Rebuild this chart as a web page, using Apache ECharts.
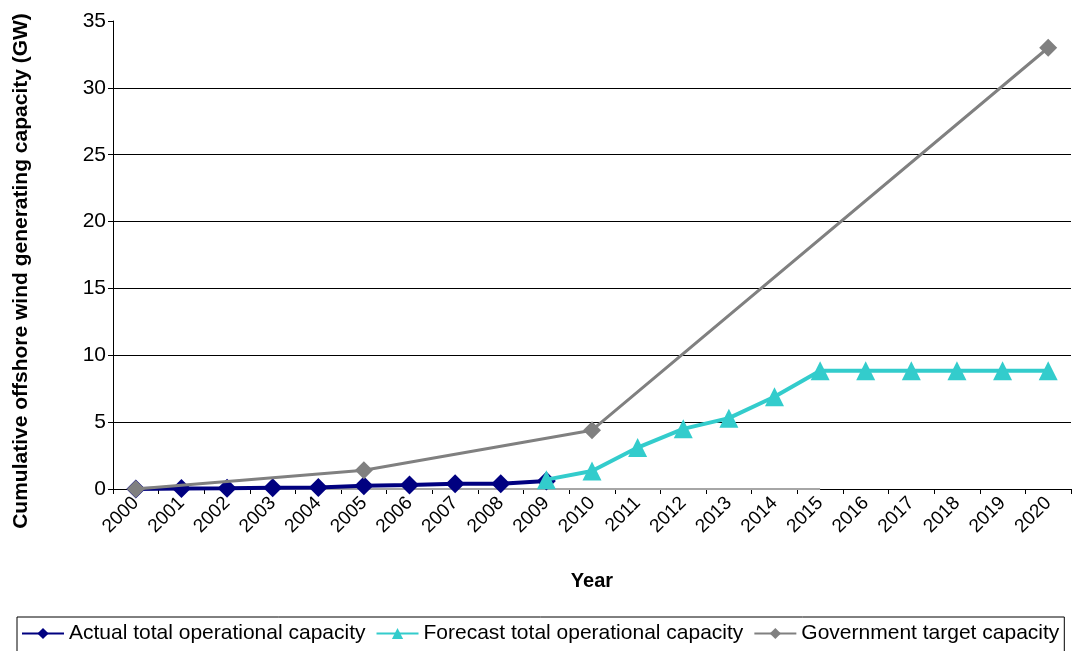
<!DOCTYPE html>
<html>
<head>
<meta charset="utf-8">
<script src="https://cdn.jsdelivr.net/npm/echarts@6/dist/echarts.min.js"></script>
<style>
html,body{margin:0;padding:0;background:#fff;}
#chart{width:1074px;height:651px;}
</style>
</head>
<body>
<div id="chart"></div>
<script>
const years = ['2000','2001','2002','2003','2004','2005','2006','2007','2008','2009','2010','2011','2012','2013','2014','2015','2016','2017','2018','2019','2020'];
const actual = [0, 0.03, 0.06, 0.1, 0.12, 0.25, 0.3, 0.4, 0.4, 0.6, null, null, null, null, null, null, null, null, null, null, null];
const forecast = [null, null, null, null, null, null, null, null, null, 0.7, 1.35, 3.1, 4.5, 5.3, 6.9, 8.85, 8.85, 8.85, 8.85, 8.85, 8.85];
const government = [0, null, null, null, null, 1.4, null, null, null, null, 4.4, null, null, null, null, null, null, null, null, null, 33];
const baseline = [0, 0, 0, 0, 0, 0, 0, 0, 0, 0, 0, 0, 0, 0, 0, 0, null, null, null, null, null];
const yTicks = [0, 5, 10, 15, 20, 25, 30, 35];
const yTitle = 'Cumulative offshore wind generating capacity (GW)';

const chart = echarts.init(document.getElementById('chart'));
const font = 'Arial, "Liberation Sans", sans-serif';
chart.setOption({
  animation: false,
  textStyle: { fontFamily: font },
  grid: { left: 113, right: 3, top: 21, bottom: 162, containLabel: false },
  graphic: [{
    type: 'text',
    x: 21,
    y: 271,
    rotation: Math.PI / 2,
    style: {
      text: yTitle,
      fontSize: 21,
      fontWeight: 'bold',
      fontFamily: font,
      fill: '#000',
      textAlign: 'center',
      textVerticalAlign: 'middle'
    }
  }],
  xAxis: {
    type: 'category',
    data: years,
    boundaryGap: true,
    axisLine: { lineStyle: { color: '#000', width: 1 } },
    axisTick: { show: true, alignWithLabel: false, length: 5, lineStyle: { color: '#000' } },
    axisLabel: { rotate: 45, fontSize: 19, color: '#000', margin: 11, fontFamily: font },
    name: 'Year',
    nameLocation: 'middle',
    nameGap: 82,
    nameTextStyle: { fontSize: 20, fontWeight: 'bold', color: '#000', fontFamily: font }
  },
  yAxis: {
    type: 'value',
    min: yTicks[0],
    max: yTicks[yTicks.length - 1],
    interval: 5,
    axisLine: { show: true, lineStyle: { color: '#000', width: 1 } },
    axisTick: { show: true, length: 5, lineStyle: { color: '#000' } },
    axisLabel: { fontSize: 21, color: '#000', margin: 7, fontFamily: font },
    splitLine: { show: true, showMaxLine: false, lineStyle: { color: '#000', width: 1 } }
  },
  legend: {
    left: 17,
    top: 617,
    width: 1050,
    orient: 'horizontal',
    borderColor: '#000',
    borderWidth: 1,
    padding: [6, 5, 12, 4],
    itemGap: 10,
    itemWidth: 42,
    itemHeight: 14,
    textStyle: { fontSize: 21, color: '#000', fontFamily: font },
    data: ['Actual total operational capacity', 'Forecast total operational capacity', 'Government target capacity']
  },
  series: [
    {
      name: 'baseline',
      type: 'line',
      data: baseline,
      symbol: 'none',
      lineStyle: { color: '#a6a6a6', width: 2 },
      silent: true,
      z: 1
    },
    {
      name: 'Actual total operational capacity',
      type: 'line',
      data: actual,
      symbol: 'diamond',
      symbolSize: 19,
      itemStyle: { color: '#000080' },
      lineStyle: { color: '#000080', width: 4 },
      z: 2
    },
    {
      name: 'Forecast total operational capacity',
      type: 'line',
      data: forecast,
      symbol: 'triangle',
      symbolSize: 19,
      itemStyle: { color: '#33CCCC' },
      lineStyle: { color: '#33CCCC', width: 4 },
      z: 3
    },
    {
      name: 'Government target capacity',
      type: 'line',
      data: government,
      connectNulls: true,
      symbol: 'diamond',
      symbolSize: 18,
      itemStyle: { color: '#808080' },
      lineStyle: { color: '#808080', width: 3 },
      z: 4
    }
  ]
});
</script>
</body>
</html>
